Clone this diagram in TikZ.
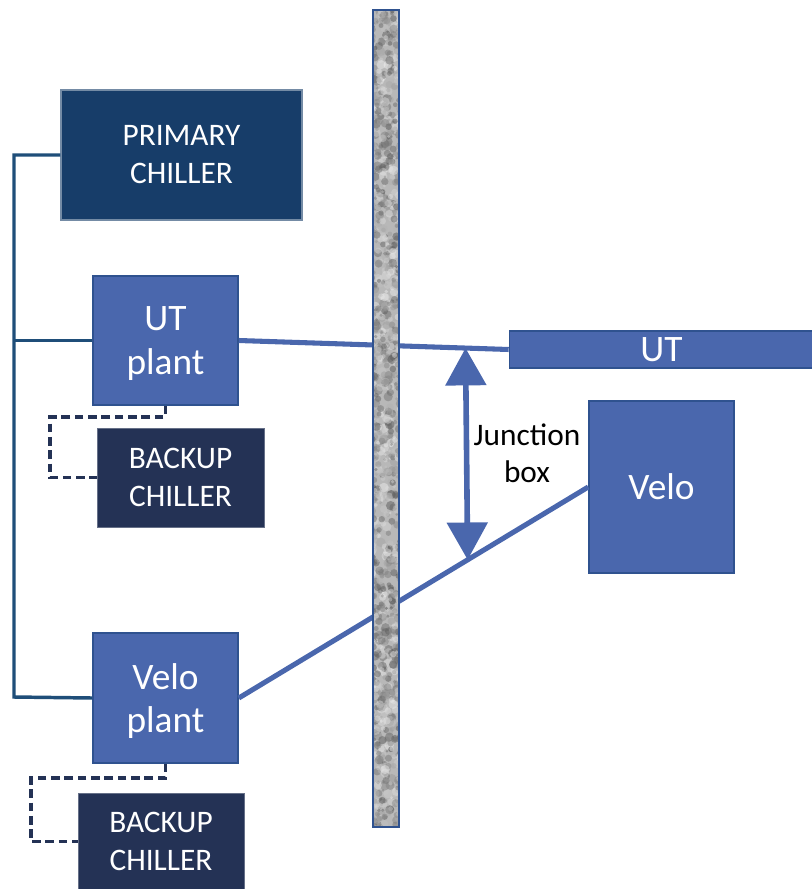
\documentclass[tikz,border=0pt]{standalone}
\usepackage{fontspec}
\setmainfont{Carlito}
\usetikzlibrary{arrows.meta,calc}

\definecolor{primaryfill}{HTML}{173D69}
\definecolor{backupfill}{HTML}{243255}
\definecolor{plantfill}{HTML}{4A67AD}
\definecolor{plantedge}{HTML}{2F528F}
\definecolor{busline}{HTML}{1F4E79}

\tikzset{
  chiller/.style={rectangle,inner sep=0pt,text=white,align=center,
    font=\fontsize{23.5}{28.5}\selectfont},
  plant/.style={rectangle,inner sep=0pt,fill=plantfill,draw=plantedge,line width=1.2pt,
    text=white,align=center,text depth=0pt,font=\fontsize{28}{32.5}\selectfont},
  bus/.style={busline,line width=2.6pt},
  pipe/.style={plantfill,line width=3.8pt},
  spare/.style={backupfill,line width=2.3pt,dash pattern=on 6.5pt off 3.5pt}
}

\begin{document}
\begin{tikzpicture}[x=0.75pt,y=-0.75pt]
  \useasboundingbox (0,0) rectangle (812,889);

  % chillers and plants on the surface side
  \node[chiller,fill=primaryfill,draw=primaryfill!60!white,line width=0.8pt,
    minimum width=180.75pt,minimum height=97.5pt] (primary) at (181.5,155) {PRIMARY\\CHILLER};
  \node[plant,minimum width=108.75pt,minimum height=96.75pt] (utplant) at (165.5,340.5) {UT\\plant};
  \node[chiller,fill=backupfill,draw=backupfill!70!white,line width=0.6pt,
    minimum width=125.25pt,minimum height=74.25pt] (backup1) at (180.5,477.5) {BACKUP\\CHILLER};
  \node[plant,minimum width=108.75pt,minimum height=97.5pt] (veloplant) at (165.5,698) {Velo\\plant};
  \node[chiller,fill=backupfill,draw=backupfill!70!white,line width=0.6pt,
    minimum width=124.5pt,minimum height=72.75pt] (backup2) at (161,841.5) {BACKUP\\CHILLER};

  % detectors behind the wall
  \node[plant,minimum width=228pt,minimum height=27.75pt] (ut) at (661.5,349.5) {UT};
  \node[plant,minimum width=108.75pt,minimum height=129pt] (velo) at (661.5,487) {Velo};

  % main cooling bus
  \coordinate (bustop) at (14,155);
  \coordinate (busbot) at (14,697);
  \draw[bus] (primary.west) -- (bustop) -- (busbot) -- (veloplant.west);
  \draw[bus] (utplant.west) -- (bustop |- utplant.west);

  % backup connections
  \coordinate (bk1) at (50,417);
  \coordinate (bk2) at (31,778);
  \draw[spare] (utplant.south) |- (bk1) |- (backup1.west);
  \draw[spare] (veloplant.south) |- (bk2) |- (backup2.west);

  % transfer lines
  \draw[pipe] (utplant.east) -- (ut.west);
  \draw[pipe] (veloplant.east) -- (velo.west);

  % shielding wall, granite look
  \begin{scope}
    \clip (373,10) rectangle (399,827);
    \fill[black!28] (373,10) rectangle (399,827);
    \pgfmathsetseed{42}
    \foreach \i in {1,...,1300}{
      \pgfmathsetmacro{\gx}{371+30*rnd}
      \pgfmathsetmacro{\gy}{8+821*rnd}
      \pgfmathsetmacro{\gs}{5+65*rnd}
      \pgfmathsetmacro{\gr}{1+2.6*rnd}
      \fill[black!\gs,opacity=0.45] (\gx,\gy) circle (\gr pt);
    }
  \end{scope}
  \node[rectangle,draw=plantedge,line width=1.8pt,inner sep=0pt,
    minimum width=19.5pt,minimum height=612.75pt] (wall) at (386,418.5) {};

  % junction box span
  \coordinate (jtop) at ($(utplant.east)!0.84!(ut.west)$);
  \coordinate (jbot) at ($(veloplant.east)!0.655!(velo.west)$);
  \draw[plantfill,line width=4.2pt,{Triangle[width=30pt,length=28pt]}-{Triangle[width=30pt,length=28pt]}]
    (jtop) -- (jbot);
  \node[align=center,font=\fontsize{23.5}{28}\selectfont] (junction) at (527,453) {Junction\\box};
\end{tikzpicture}
\end{document}
